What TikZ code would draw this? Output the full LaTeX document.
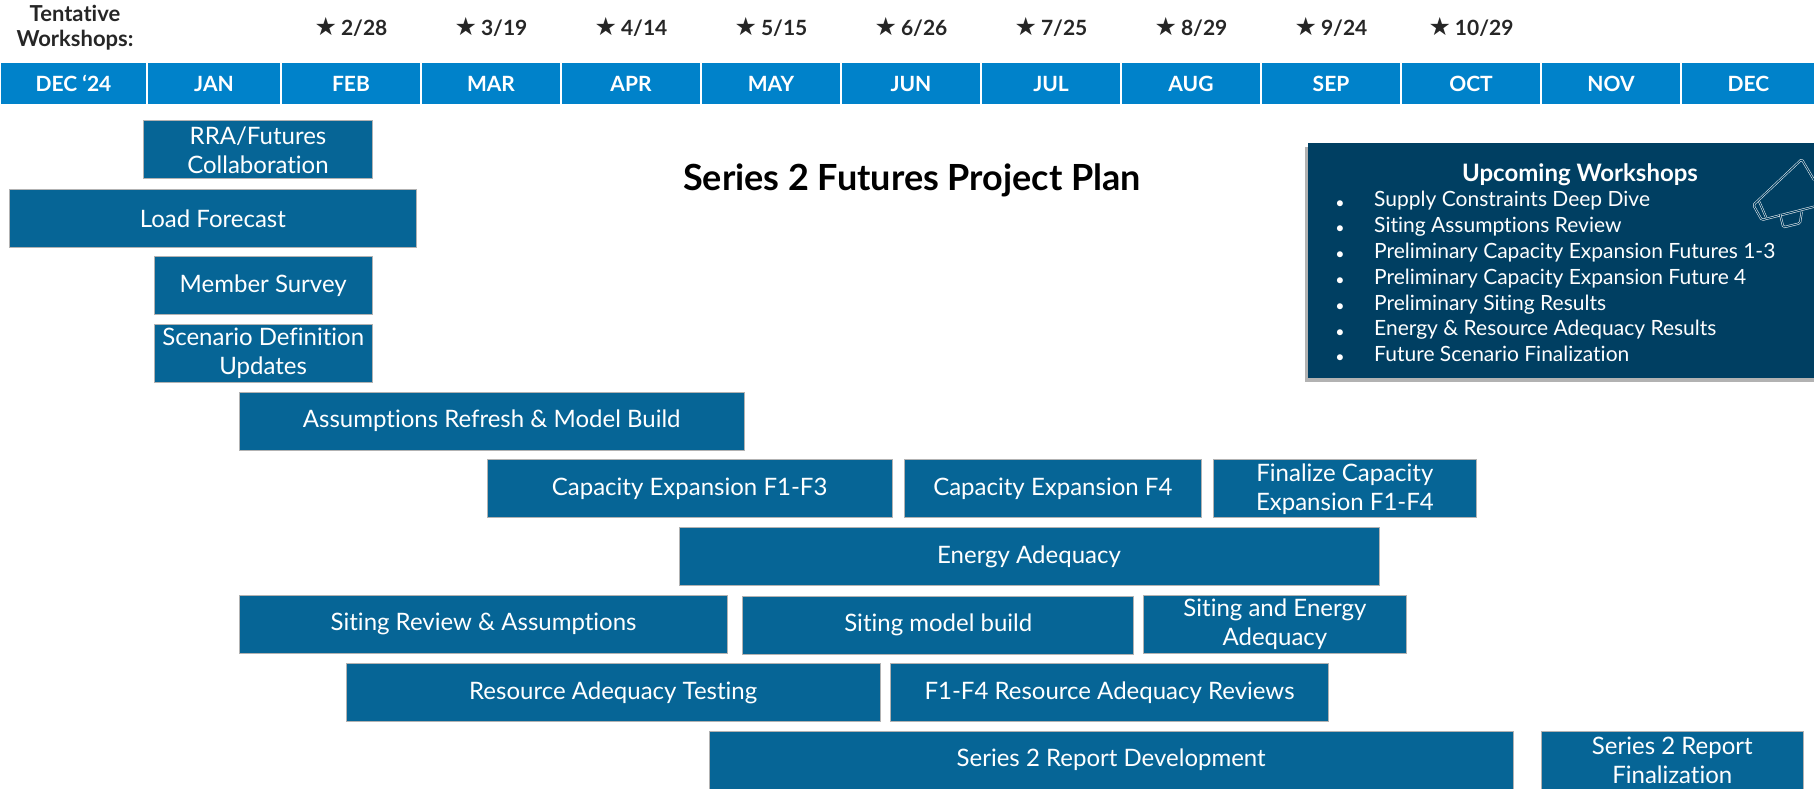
\documentclass[tikz,border=0pt]{standalone}
\usepackage{fontspec}
\setmainfont{Lato}[Ligatures=NoCommon]
\newfontfamily\symfont{DejaVu Sans}
\usetikzlibrary{shadows}
\definecolor{monthblue}{RGB}{0,130,202}
\definecolor{taskblue}{RGB}{6,101,150}
\definecolor{wsnavy}{RGB}{0,63,98}
\definecolor{labelgray}{RGB}{38,38,38}
\begin{document}
\begin{tikzpicture}[x=1pt,y=-1pt,
  month/.style={fill=monthblue,draw=white,line width=1.5pt,text=white,inner sep=0pt,
    minimum height=43pt,font=\fontsize{21}{25}\selectfont\bfseries},
  stars/.style={text=labelgray,inner sep=0pt,font=\fontsize{21}{25}\selectfont\bfseries},
  task/.style={fill=taskblue,draw=black!30,line width=0.8pt,text=white,inner sep=0pt,
    minimum height=58pt,align=center,font=\fontsize{24}{29}\selectfont},
  wsbox/.style={fill=wsnavy,inner sep=0pt,
    drop shadow={shadow xshift=-3pt,shadow yshift=-4pt,fill=black,opacity=0.3}},
  wsitem/.style={text=white,inner sep=0pt,font=\fontsize{21}{25}\selectfont},
  megaphone/.style={draw=white,double=wsnavy,double distance=1.1pt,line width=0.5pt,rounded corners=1.5pt}]
\useasboundingbox (0,0) rectangle (1814,789);
\clip (0,0) rectangle (1814,789);

\node[text=labelgray,align=center,inner sep=0pt,font=\fontsize{22}{25}\selectfont\bfseries] (tent) at (75,28) {Tentative\\Workshops:};

\foreach \lbl/\a/\b [count=\i] in {DEC ‘24/0/147,JAN/147/281,FEB/281/421,MAR/421/561,APR/561/701,
    MAY/701/841,JUN/841/981,JUL/981/1121,AUG/1121/1261,SEP/1261/1401,OCT/1401/1541,NOV/1541/1681,DEC/1681/1816}
  \node[month,minimum width={(\b-\a)*1pt}] (mon\i) at ({(\a+\b)/2},83.5) {\lbl};

\foreach \d [count=\i from 3] in {2/28,3/19,4/14,5/15,6/26,7/25,8/29,9/24,10/29}
  \node[stars,yshift=34pt] (st\i) at (mon\i.north) {{\symfont\fontsize{25}{25}\selectfont ★}\kern4pt\d};

\node[font=\fontsize{36}{42}\selectfont\bfseries,inner sep=0pt] (plan) at (912,180) {Series 2 Futures Project Plan};

\node[task,minimum width=229pt] (rra) at (258,149.8) {RRA/Futures\\Collaboration};
\node[task,minimum width=407pt] (load) at (212.9,218.7) {Load Forecast};
\node[task,minimum width=218.6pt] (survey) at (263.2,285.8) {Member Survey};
\node[task,minimum width=218.6pt] (scenario) at (263.2,352.9) {Scenario Definition\\Updates};
\node[task,minimum width=504.4pt] (assume) at (491.7,421.1) {Assumptions Refresh \& Model Build};
\node[task,minimum width=405pt] (capa) at (689.6,488.8) {Capacity Expansion F1-F3};
\node[task,minimum width=296.2pt] (capb) at (1052.8,488.8) {Capacity Expansion F4};
\node[task,minimum width=262.7pt] (capfin) at (1344.9,488.8) {Finalize Capacity\\Expansion F1-F4};
\node[task,minimum width=700pt] (energy) at (1029,556.5) {Energy Adequacy};
\node[task,minimum width=488.2pt] (sitrev) at (483.6,624.1) {Siting Review \& Assumptions};
\node[task,minimum width=391.1pt] (sitmod) at (938.3,625) {Siting model build};
\node[task,minimum width=263.8pt] (sitener) at (1274.9,624.1) {Siting and Energy\\Adequacy};
\node[task,minimum width=534.5pt] (ratest) at (613.2,692.4) {Resource Adequacy Testing};
\node[task,minimum width=437.3pt] (rarev) at (1109.5,692.4) {F1-F4 Resource Adequacy Reviews};
\node[task,minimum width=804pt] (rptdev) at (1111.2,760.2) {Series 2 Report Development};
\node[task,minimum width=262.6pt] (rptfin) at (1672.3,760.2) {Series 2 Report\\Finalization};

\node[wsbox,anchor=north west,minimum width=530pt,minimum height=235pt] (ws) at (1308,143) {};
\node[wsitem,font=\fontsize{24}{28}\selectfont\bfseries] (wshead) at (1580,175) {Upcoming Workshops};
\foreach \txt [count=\i] in {Supply Constraints Deep Dive,Siting Assumptions Review,
    Preliminary Capacity Expansion Futures 1-3,Preliminary Capacity Expansion Future 4,
    Preliminary Siting Results,Energy \& Resource Adequacy Results,Future Scenario Finalization}
{
  \node[wsitem,font=\fontsize{16}{20}\selectfont] (wsb\i) at (1340,178.5+25.8*\i) {•};
  \node[wsitem,anchor=mid west] (wsi\i) at (1374,178.5+25.8*\i) {\txt};
}

\draw[megaphone] (1814,180) -- (1801.7,159.3) -- (1753.3,205) -- (1761.7,220) -- (1814,206.7);
\draw[megaphone] (1759.3,201.7) -- (1766,217.3);
\draw[megaphone] (1780,214) -- (1783.3,227.3) -- (1800,223.3) -- (1801.7,211.7);
\end{tikzpicture}
\end{document}
